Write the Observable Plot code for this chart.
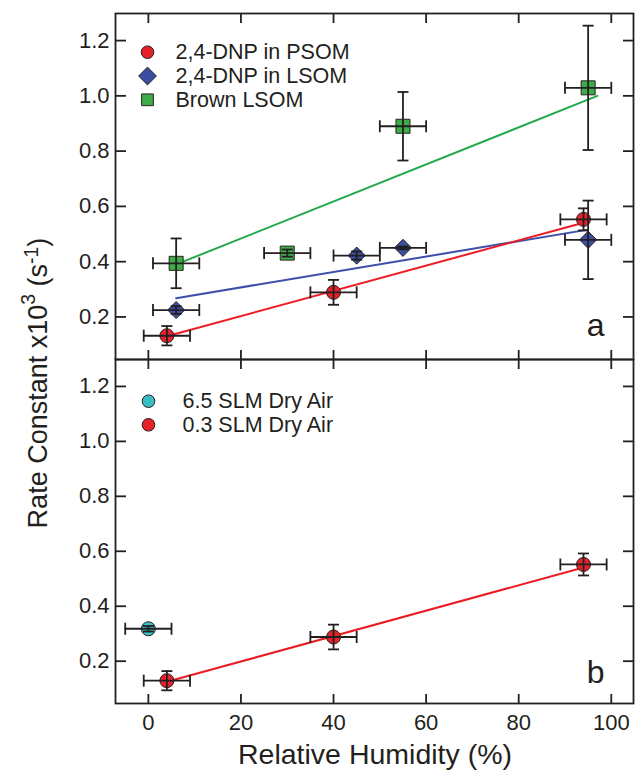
<!DOCTYPE html>
<html><head><meta charset="utf-8">
<script src="https://cdn.jsdelivr.net/npm/d3@7"></script>
<script src="https://cdn.jsdelivr.net/npm/@observablehq/plot@0.6"></script>
<style>
body{margin:0;background:#fff;}
#wrap{position:relative;width:635px;height:775px;overflow:hidden;font-family:"Liberation Sans",Arial,Helvetica,sans-serif;color:#231f20;}
#pa,#pb{position:absolute;left:0;}
#pa{top:0;} #pb{top:359px;}
.lbl{position:absolute;white-space:nowrap;line-height:1;}
#ylab{left:37.5px;top:383px;font-size:27px;transform:translate(-50%,-50%) rotate(-90deg);}
#xlab{left:375px;top:740px;font-size:28.5px;transform:translateX(-50%);}
.s3{position:relative;top:-0.62em;font-size:0.72em;}
.s1{position:relative;top:-0.45em;font-size:0.72em;}
</style></head>
<body><div id="wrap"><div id="pa"></div><div id="pb"></div>
<div class="lbl" id="ylab">Rate Constant x10<span class="s3">3</span> (s<span class="s1">-1</span>)</div>
<div class="lbl" id="xlab">Relative Humidity (%)</div>
</div>
<script>
// ---- data ----
const xTicks = [0, 20, 40, 60, 80, 100];
const yTicks = [0.2, 0.4, 0.6, 0.8, 1.0, 1.2];

// panel a: 2,4-DNP in PSOM
const psomRH = [4, 40, 94];
const psomK = [0.132, 0.289, 0.553];
const psomKerr = [0.035, 0.045, 0.040];
const psomRHerr = [5, 5, 5];
// panel a: 2,4-DNP in LSOM
const lsomRH = [6, 45, 55, 95];
const lsomK = [0.225, 0.422, 0.450, 0.479];
const lsomKerr = [0.014, 0.015, 0.005, 0.142];
const lsomRHerr = [5, 5, 5, 5];
// panel a: Brown LSOM
const brownRH = [6, 30, 55, 95];
const brownK = [0.394, 0.431, 0.890, 1.029];
const brownKerr = [0.090, 0.013, 0.124, 0.225];
const brownRHerr = [5, 5, 5, 5];
// panel a fit lines (end points)
const fitPsomRH = [4, 94];   const fitPsomK = [0.130, 0.541];
const fitLsomRH = [6, 95];   const fitLsomK = [0.268, 0.516];
const fitBrownRH = [6, 97];  const fitBrownK = [0.390, 1.000];

// panel b: 6.5 SLM dry air
const dry65RH = [0];  const dry65K = [0.318];  const dry65Kerr = [0.010];  const dry65RHerr = [5];
// panel b: 0.3 SLM dry air
const dry03RH = [4, 40, 94];
const dry03K = [0.129, 0.288, 0.552];
const dry03Kerr = [0.035, 0.045, 0.040];
const dry03RHerr = [5, 5, 5];
const fitDry03RH = [4, 94]; const fitDry03K = [0.125, 0.541];

const legendA = ["2,4-DNP in PSOM", "2,4-DNP in LSOM", "Brown LSOM"];
const legendB = ["6.5 SLM Dry Air", "0.3 SLM Dry Air"];

// ---- style ----
const FONT = '"Liberation Sans", Arial, Helvetica, sans-serif';
const INK = "#231f20";
const RED = "#e5222a", BLUE = "#3a4ea2", GREEN = "#3dad4a", CYAN = "#38bec4";
const LRED = "#ec1c24", LBLUE = "#3d4faa", LGREEN = "#23a84a";
const MST = "#2a1f1f";
const xDomain = [-7.1, 104.8];
const yDomain = [0.046, 1.298];

const rows = (rh, k, ke, rhe) => rh.map((x, i) => ({x, y: k[i], ye: ke[i], xe: rhe[i]}));
const line = (rh, k) => rh.map((x, i) => ({x, y: k[i]}));

const capH = {draw(ctx, size) { const r = Math.sqrt(size / Math.PI); ctx.moveTo(-r, 0); ctx.lineTo(r, 0); }};
const capV = {draw(ctx, size) { const r = Math.sqrt(size / Math.PI); ctx.moveTo(0, -r); ctx.lineTo(0, r); }};

function errorMarks(data) {
  const o = {stroke: INK, strokeWidth: 1.8, fill: "none"};
  return [
    Plot.ruleX(data, {x: "x", y1: d => d.y - d.ye, y2: d => d.y + d.ye, ...o}),
    Plot.ruleY(data, {y: "y", x1: d => d.x - d.xe, x2: d => d.x + d.xe, ...o}),
    Plot.dot(data, {x: "x", y: d => d.y - d.ye, symbol: capH, r: 5.5, ...o}),
    Plot.dot(data, {x: "x", y: d => d.y + d.ye, symbol: capH, r: 5.5, ...o}),
    Plot.dot(data, {x: d => d.x - d.xe, y: "y", symbol: capV, r: 6, ...o}),
    Plot.dot(data, {x: d => d.x + d.xe, y: "y", symbol: capV, r: 6, ...o})
  ];
}
function series(data, symbol, r, fill) {
  return [
    Plot.dot(data, {x: "x", y: "y", symbol, r, fill, stroke: MST, strokeWidth: 1}),
    ...errorMarks(data)
  ];
}
function fit(data, stroke) {
  return Plot.line(data, {x: "x", y: "y", stroke, strokeWidth: 2});
}
function legend(items, dxM, dxT, dy0, step) {
  return items.flatMap((it, i) => [
    Plot.dot([it], {frameAnchor: "top-left", dx: dxM, dy: dy0 + i * step, symbol: it.symbol, r: it.r, fill: it.fill, stroke: MST, strokeWidth: 1}),
    Plot.text([it], {frameAnchor: "top-left", dx: dxT, dy: dy0 + i * step, text: d => d.label, textAnchor: "start", lineAnchor: "middle", fontSize: 21.5, fill: INK})
  ]);
}
function frameAndTicks(showXLabels) {
  const t = {stroke: INK, strokeWidth: 1.8, fill: "none", tickSize: 10, label: null};
  return [
    Plot.frame({stroke: INK, strokeWidth: 1.8}),
    Plot.axisY(yTicks, {anchor: "left", tickSize: 0, tickPadding: 6, label: null, fontSize: 22, fill: INK, tickFormat: d3.format(".1f")}),
    Plot.axisY(yTicks, {anchor: "right", frameAnchor: "left", ...t}),
    Plot.axisY(yTicks, {anchor: "left", frameAnchor: "right", ...t}),
    Plot.axisX(xTicks, {anchor: "bottom", frameAnchor: "top", ...t}),
    Plot.axisX(xTicks, {anchor: "top", frameAnchor: "bottom", ...t}),
    showXLabels ? Plot.axisX(xTicks, {anchor: "bottom", tickSize: 0, tickPadding: 11, label: null, fontSize: 22, fill: INK}) : null
  ];
}
function panelLetter(letter, dy) {
  return Plot.text([letter], {frameAnchor: "bottom-right", dx: -29, dy, text: d => d, textAnchor: "end", lineAnchor: "bottom", fontSize: 32, fill: INK});
}

const psom = rows(psomRH, psomK, psomKerr, psomRHerr);
const lsom = rows(lsomRH, lsomK, lsomKerr, lsomRHerr);
const brown = rows(brownRH, brownK, brownKerr, brownRHerr);
const dry65 = rows(dry65RH, dry65K, dry65Kerr, dry65RHerr);
const dry03 = rows(dry03RH, dry03K, dry03Kerr, dry03RHerr);

const common = {
  width: 635, marginLeft: 115, marginRight: 2,
  x: {domain: xDomain}, y: {domain: yDomain},
  style: {fontFamily: FONT, fontSize: "22px", color: INK, background: "transparent", overflow: "visible"}
};

const plotA = Plot.plot({
  ...common, height: 359, marginTop: 13, marginBottom: 0,
  marks: [
    fit(line(fitBrownRH, fitBrownK), LGREEN),
    fit(line(fitLsomRH, fitLsomK), LBLUE),
    fit(line(fitPsomRH, fitPsomK), LRED),
    ...series(psom, "circle", 7, RED),
    ...series(lsom, "diamond2", 7.7, BLUE),
    ...series(brown, "square", 7.9, GREEN),
    ...legend([
      {label: legendA[0], symbol: "circle", r: 6.3, fill: RED},
      {label: legendA[1], symbol: "diamond2", r: 8, fill: BLUE},
      {label: legendA[2], symbol: "square", r: 6.6, fill: GREEN}
    ], 32, 60, 38.7, 23.8),
    panelLetter("a", -24),
    ...frameAndTicks(false)
  ]
});

const plotB = Plot.plot({
  ...common, height: 416, marginTop: 0, marginBottom: 72,
  marks: [
    fit(line(fitDry03RH, fitDry03K), LRED),
    ...series(dry65, "circle", 7, CYAN),
    ...series(dry03, "circle", 7, RED),
    ...legend([
      {label: legendB[0], symbol: "circle", r: 6.3, fill: CYAN},
      {label: legendB[1], symbol: "circle", r: 6.3, fill: RED}
    ], 33, 67, 41.7, 23.6),
    panelLetter("b", -21),
    ...frameAndTicks(true)
  ]
});

document.getElementById("pa").appendChild(plotA);
document.getElementById("pb").appendChild(plotB);
</script>
</body></html>
